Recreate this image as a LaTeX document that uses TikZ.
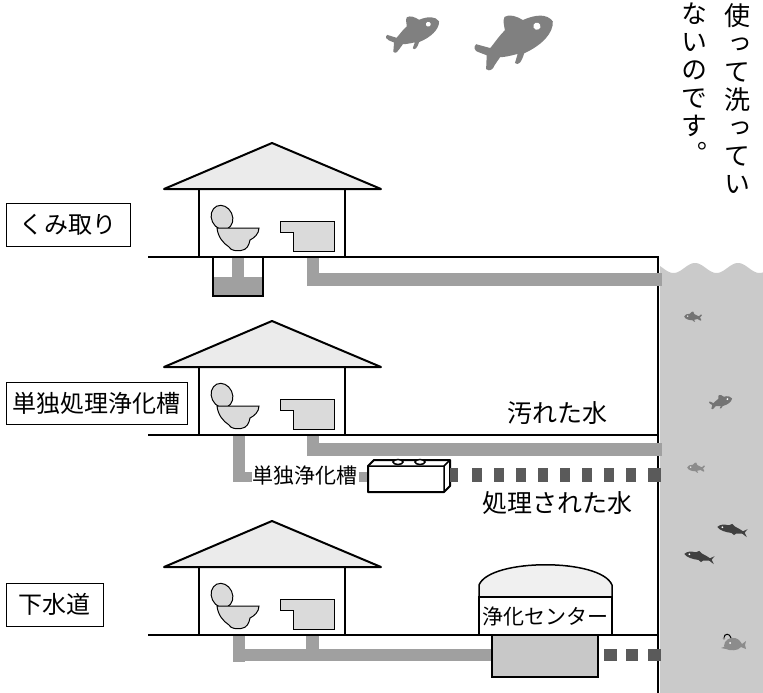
\documentclass[tikz,border=0pt]{standalone}
\usepackage{fontspec}
\newfontfamily\jp{Noto Sans CJK JP}
\newfontfamily\jpv[RawFeature=+vert]{Noto Sans CJK JP}
\definecolor{roofgray}{HTML}{EBEBEB}
\definecolor{fixgray}{HTML}{DADADA}
\definecolor{pipegray}{HTML}{A0A0A0}
\definecolor{treatgray}{HTML}{5A5A5A}
\definecolor{watergray}{HTML}{CACACA}
\definecolor{tankgray}{HTML}{C8C8C8}
\definecolor{domegray}{HTML}{F0F0F0}
\definecolor{fishtop}{HTML}{808080}
\definecolor{fishdark}{HTML}{404040}
\definecolor{fishmid}{HTML}{747474}
\definecolor{fishlight}{HTML}{8C8C8C}
\tikzset{
  roofstyle/.style={fill=roofgray, draw=black, line width=2pt, line join=round},
  wallline/.style={draw=black, line width=2pt},
  groundline/.style={draw=black, line width=2pt},
  fixture/.style={fill=fixgray, draw=black, line width=1pt},
  pipefill/.style={fill=pipegray},
  treatfill/.style={fill=treatgray},
  tagbox/.style={draw=black, line width=1pt, fill=white, inner sep=0pt,
    font=\jp\fontsize{24}{24}\selectfont},
  waterlabel/.style={inner sep=0pt, font=\jp\fontsize{25}{25}\selectfont},
  smalllabel/.style={inner sep=0pt, font=\jp\fontsize{21}{21}\selectfont},
  vcolumn/.style={inner sep=0pt, anchor=north, align=center,
    font=\jpv\fontsize{26}{28}\selectfont},
  % round fish facing right, nose at +x
  roundfish/.pic={
    \fill[pic actions] (40,-2) .. controls (38,-11) and (28,-15) .. (14,-15)
      .. controls (10,-21) and (4,-26) .. (-1,-25)
      .. controls (-4,-23) and (-5,-17) .. (-6,-13)
      .. controls (-14,-10) and (-20,-6) .. (-26,-3)
      -- (-37,-12) .. controls (-41,-11) and (-41,-6) .. (-38,-4)
      -- (-32,2) -- (-38,14) .. controls (-36,18) and (-32,17) .. (-29,14)
      -- (-21,9) .. controls (-16,11) and (-10,12) .. (-4,13)
      -- (-10,20) .. controls (-8,24) and (-4,22) .. (2,15)
      .. controls (20,15) and (36,9) .. (40,-2) -- cycle;
    \fill[white] (24,-4) circle (3.5);
  },
  % slim fish facing left
  slimfish/.pic={
    \fill[pic actions] (-15,0) .. controls (-13,-3) and (-9,-4) .. (-4,-4)
      -- (-1,-6) -- (2,-4) .. controls (6,-3) and (9,-2) .. (11,-1)
      -- (15,-4) -- (13,0) -- (16,4) -- (11,1.5) -- (5,2.5) -- (3,4.5)
      -- (0,3) .. controls (-6,3.5) and (-12,3) .. (-15,0) -- cycle;
    \fill[white] (-10,-0.7) circle (1);
  },
  % angler fish facing left
  anglerfish/.pic={
    \fill[pic actions] (-8,2) .. controls (-8,-4) and (-2,-7) .. (3,-6)
      .. controls (7,-5) and (9,-2) .. (10,0) -- (14,-3) -- (13,1) -- (14,5)
      -- (9,3) .. controls (6,7) and (-2,7) .. (-6,5) -- (-11,4) -- (-7,2.5) -- cycle;
    \draw[pic actions, fill=none, line width=1pt] (-1,-6) .. controls (-2,-11) and (-8,-11) .. (-8,-6);
    \fill[pic actions] (-8,-5.5) circle (1.3);
    \fill[white] (-2,-1) circle (1);
  }
}
\begin{document}
\begin{tikzpicture}[x=1pt,y=-1pt]
\useasboundingbox (0,0) rectangle (763,693);

% sea on the right
\fill[watergray] (660,693) -- (660,266)
  -- plot[domain=660:763, samples=80] (\x, {268-5*cos(8.372*(\x-695))})
  -- (763,693) -- cycle;

% fish in the sky
\pic[fill=fishtop, rotate=24, scale=1.03] at (516,40) {roundfish};
\pic[fill=fishtop, rotate=22, scale=0.69] at (414,33) {roundfish};

% fish in the sea
\pic[fill=fishmid, xscale=-0.22, yscale=0.22] at (693,317) {roundfish};
\pic[fill=fishmid, rotate=15, scale=0.29] at (721,402) {roundfish};
\pic[fill=fishlight, xscale=-0.22, yscale=0.22] at (696,468) {roundfish};
\pic[fill=fishdark, rotate=-12] at (732,530) {slimfish};
\pic[fill=fishdark, rotate=-12] at (699,557) {slimfish};
\pic[fill=fishlight] at (732,644) {anglerfish};

% ground lines and the sea wall
\draw[groundline] (148,257) -- (658,257) -- (658,693);
\draw[groundline] (148,435) -- (658,435);
\draw[groundline] (148,635) -- (658,635);

% --- house 1: pit toilet ---
\fill[pipegray] (213,277) rectangle (263,295);
\fill[pipegray] (232,258) rectangle (244,278);
\draw[wallline] (213,257) -- (213,296) -- (263,296) -- (263,257);
\fill[pipegray] (307,258) rectangle (319,286);
\fill[pipegray] (307,273) rectangle (662,286);

% --- house 2: single septic tank ---
\fill[pipegray] (233,436) rectangle (245,482);
\fill[pipegray] (233,472) rectangle (370,482);
\fill[pipegray] (307,436) rectangle (319,456);
\fill[pipegray] (307,443) rectangle (662,456);
\draw[fill=white, line width=2pt, line join=round]
  (368,466) -- (374,460) -- (450,460) -- (450,486) -- (444,492) -- (368,492) -- cycle;
\draw[line width=1.5pt] (368,466) -- (444,466) -- (450,460) (444,466) -- (444,492);
\draw[fill=white, line width=1.5pt] (398,462) ellipse (5 and 2.5);
\draw[fill=white, line width=1.5pt] (420,462) ellipse (5 and 2.5);
\fill[treatfill] (450,468) rectangle (458,482);
\foreach \k in {0,...,8}
  \fill[treatfill] ({472+22*\k},468) rectangle ({482+22*\k},482);
\fill[treatfill] (648,468) rectangle (661,482);
\node[smalllabel, fill=white, inner xsep=1pt, inner ysep=2pt] (septic) at (305,476) {単独浄化槽};

% --- house 3: sewer ---
\fill[pipegray] (233,636) rectangle (245,662);
\fill[pipegray] (233,649) rectangle (493,661);
\fill[pipegray] (306,636) rectangle (319,649);
\draw[fill=tankgray, line width=2pt] (492,635) rectangle (598,677);
\foreach \xa/\xb in {604/617, 626/638, 648/661}
  \fill[treatfill] (\xa,649) rectangle (\xb,661);
\draw[fill=domegray, line width=1.5pt] (479,597) -- (479,585)
  .. controls (490,558) and (601,558) .. (612,585) -- (612,597);
\node[draw=black, line width=2pt, fill=white, minimum width=133pt,
  minimum height=38pt, inner sep=0pt, smalllabel] (center) at (545.5,616) {浄化センター};

% --- the three houses ---
\foreach \g in {257,435,635}{
  \begin{scope}[shift={(0,\g)}]
    \draw[roofstyle] (164,-68) -- (272,-114) -- (381,-68) -- cycle;
    \draw[wallline] (199,-68) -- (199,0) (345,-68) -- (345,0);
    % toilet
    \draw[fixture, rotate around={25:(222,-39.5)}] (222,-39.5) ellipse (10.5 and 12.5);
    \draw[fixture] (217,-29) -- (259,-29)
      .. controls (259,-23) and (254,-19) .. (250,-17)
      .. controls (249,-12) and (247,-7) .. (241,-6.5)
      .. controls (237,-6) and (231,-6) .. (229,-10)
      .. controls (223,-14) and (218,-20) .. (217,-29) -- cycle;
    % wash basin
    \draw[fixture] (280,-36) -- (334,-36) -- (334,-6) -- (293,-6) -- (293,-25) -- (280,-25) -- cycle;
  \end{scope}
}

% --- labels ---
\node[tagbox, minimum width=124pt, minimum height=43pt] (kumitori) at (68,224.5) {くみ取り};
\node[tagbox, minimum width=181pt, minimum height=42pt] (tandoku) at (96.5,403) {単独処理浄化槽};
\node[tagbox, minimum width=97pt, minimum height=43pt] (gesuido) at (54.5,604.5) {下水道};
\node[waterlabel] (dirty) at (557,413) {汚れた水};
\node[waterlabel] (treated) at (557,503) {処理された水};

% vertical note
\node[vcolumn] (colA) at (737,3) {使\\っ\\て\\洗\\っ\\て\\い};
\node[vcolumn] (colB) at (694,3) {な\\い\\の\\で\\す\\。};
\end{tikzpicture}
\end{document}
